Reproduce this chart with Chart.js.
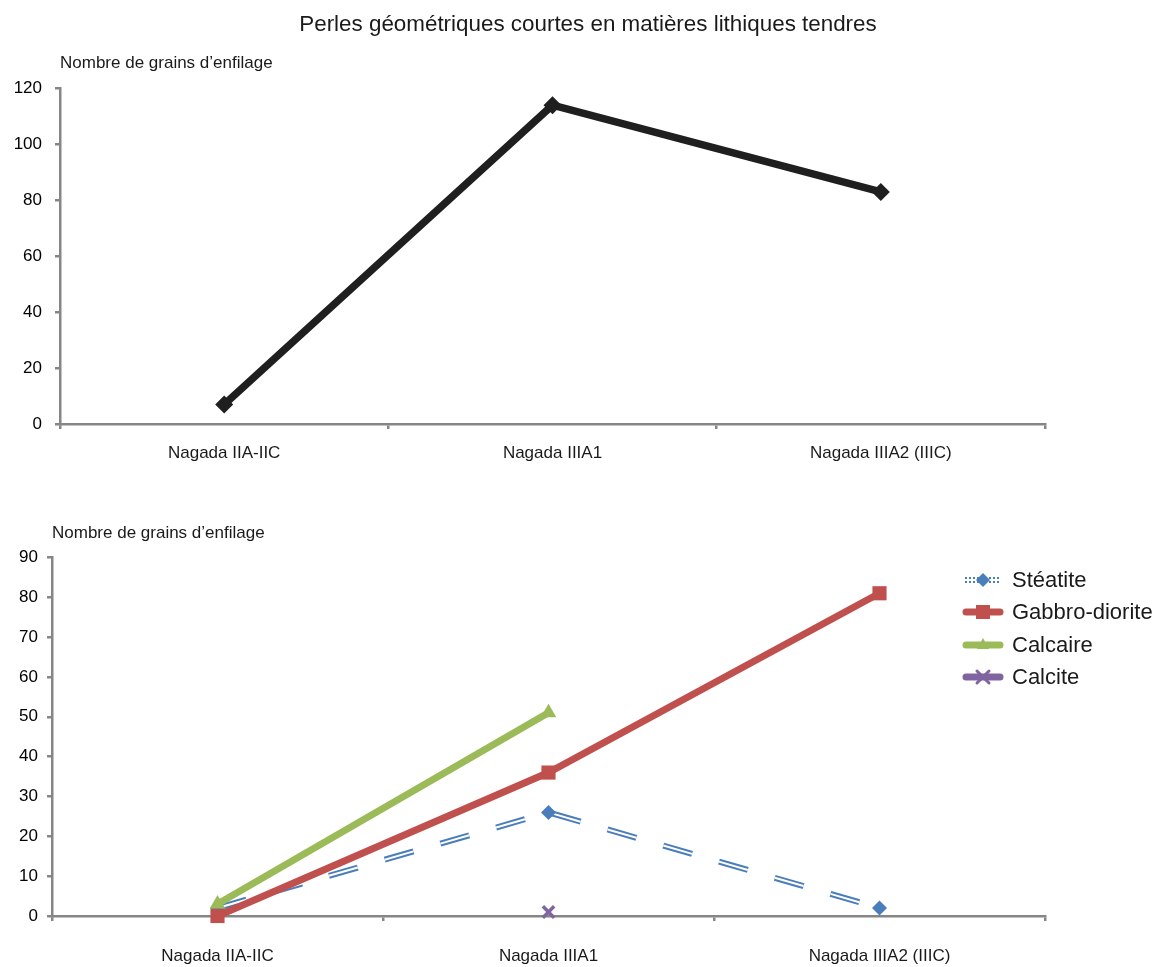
<!DOCTYPE html>
<html>
<head>
<meta charset="utf-8">
<script src="https://cdn.jsdelivr.net/npm/chart.js@4.4.1/dist/chart.umd.min.js"></script>
<style>
    body { margin: 0; background: #fff; width: 1157px; height: 967px; position: relative; overflow: hidden; font-family: "Liberation Sans", Arial, sans-serif; }
    #mainTitle { position: absolute; left: 0; top: 11px; width: 1176px; text-align: center; font-size: 22.4px; line-height: 26px; color: #1a1a1a; white-space: nowrap; }
    #topChart { position: absolute; left: 0; top: 0; }
    #bottomChart { position: absolute; left: 0; top: 470px; }
    #legend { position: absolute; left: 962px; top: 564px; }
    .item { display: flex; align-items: center; height: 32.3px; font-size: 22px; color: #1a1a1a; white-space: nowrap; }
    .item canvas { margin-right: 8px; }
</style>
</head>
<body>
<canvas id="topChart" width="1157" height="470"></canvas>
<canvas id="bottomChart" width="1157" height="497"></canvas>
<div id="mainTitle"></div>
<div id="legend"></div>
<script>
// data
const periods = ['Nagada IIA-IIC', 'Nagada IIIA1', 'Nagada IIIA2 (IIIC)'];
const totalGrains = [7, 114, 83];
const steatite = [2, 26, 2];
const gabbroDiorite = [0, 36, 81];
const calcaire = [3, 51, null];
const calcite = [null, 1, null];
const seriesNames = ['Stéatite', 'Gabbro-diorite', 'Calcaire', 'Calcite'];

const mainTitle = 'Perles géométriques courtes en matières lithiques tendres';
const yTitle = 'Nombre de grains d\u2019enfilage';

const AXIS = '#868686';
const BLUE = '#4a7ebb';
const RED = '#c0504d';
const GREEN = '#9bbb59';
const PURPLE = '#8064a2';

Chart.defaults.font.family = "'Liberation Sans', Arial, sans-serif";
Chart.defaults.color = '#1a1a1a';
Chart.defaults.animation = false;

document.getElementById('mainTitle').textContent = mainTitle;

function makeScales(yMax, step, yWidth, yPad, xPad, xHeight) {
    return {
        x: {
            type: 'category',
            offset: true,
            grid: { offset: true, drawOnChartArea: false, drawTicks: true, tickLength: 5, color: AXIS, lineWidth: 2.5 },
            border: { color: AXIS, width: 2.5 },
            ticks: { font: { size: 17 }, padding: xPad, color: '#1a1a1a', maxRotation: 0 },
            afterFit: (scale) => { scale.height = xHeight; }
        },
        y: {
            min: 0,
            max: yMax,
            ticks: { stepSize: step, font: { size: 17 }, padding: yPad, color: '#000' },
            grid: { drawOnChartArea: false, drawTicks: true, tickLength: 5, color: AXIS, lineWidth: 2.5 },
            border: { color: AXIS, width: 2.5 },
            afterFit: (scale) => { scale.width = yWidth; }
        }
    };
}

function yTitleOptions(padTop, padBottom) {
    return {
        display: true,
        text: yTitle,
        align: 'start',
        fullSize: false,
        font: { size: 17, weight: 'normal' },
        color: '#1a1a1a',
        padding: { top: padTop, bottom: padBottom }
    };
}

// top chart
new Chart(document.getElementById('topChart'), {
    type: 'line',
    data: {
        labels: periods,
        datasets: [{
            label: 'Total',
            data: totalGrains,
            borderColor: '#1f1f1f',
            backgroundColor: '#1f1f1f',
            borderWidth: 7.5,
            tension: 0,
            pointStyle: 'rectRot',
            pointRadius: 9,
            pointBorderWidth: 0,
            pointBackgroundColor: '#1f1f1f',
            clip: false
        }]
    },
    options: {
        responsive: false,
        layout: { padding: { right: 112, bottom: 0 } },
        plugins: {
            legend: { display: false },
            tooltip: { enabled: false },
            title: yTitleOptions(53, 15)
        },
        scales: makeScales(120, 20, 60, 13, 14, 46)
    }
});

// bottom chart
const dash = [30, 28];
new Chart(document.getElementById('bottomChart'), {
    type: 'line',
    data: {
        labels: periods,
        datasets: [
            {
                label: seriesNames[0],
                data: steatite,
                borderColor: BLUE,
                borderWidth: 6,
                borderDash: dash,
                pointRadius: 0,
                order: 5,
                clip: false
            },
            {
                label: seriesNames[0] + ' (inner)',
                data: steatite,
                borderColor: '#ffffff',
                borderWidth: 2,
                borderDash: dash,
                pointRadius: 0,
                order: 4,
                clip: false
            },
            {
                label: seriesNames[0] + ' (points)',
                data: steatite,
                showLine: false,
                pointStyle: 'rectRot',
                pointRadius: 7.5,
                pointBorderWidth: 0,
                pointBackgroundColor: BLUE,
                order: 3,
                clip: false
            },
            {
                label: seriesNames[1],
                data: gabbroDiorite,
                borderColor: RED,
                borderWidth: 7,
                pointStyle: 'rect',
                pointRadius: 10,
                pointBorderWidth: 0,
                pointBackgroundColor: RED,
                order: 2,
                clip: false
            },
            {
                label: seriesNames[2],
                data: calcaire,
                borderColor: GREEN,
                borderWidth: 7,
                pointStyle: 'triangle',
                pointRadius: 9,
                pointBorderWidth: 0,
                pointBackgroundColor: GREEN,
                order: 1,
                clip: false
            },
            {
                label: seriesNames[3],
                data: calcite,
                borderColor: PURPLE,
                borderWidth: 6,
                pointStyle: 'crossRot',
                pointRadius: 8,
                pointBorderWidth: 3.5,
                pointBorderColor: PURPLE,
                order: 0,
                clip: false
            }
        ]
    },
    options: {
        responsive: false,
        layout: { padding: { right: 112, bottom: 0 } },
        plugins: {
            legend: { display: false },
            tooltip: { enabled: false },
            title: yTitleOptions(53, 14)
        },
        scales: makeScales(90, 10, 52, 9, 25, 51)
    }
});

// legend with small line + marker icons
const legendStyles = [
    { color: BLUE, marker: 'diamond', dotted: true },
    { color: RED, marker: 'square' },
    { color: GREEN, marker: 'triangle' },
    { color: PURPLE, marker: 'cross' }
];

function drawIcon(cv, st) {
    const c = cv.getContext('2d');
    const w = cv.width, h = cv.height, my = h / 2;
    c.lineCap = 'round';
    if (st.dotted) {
        c.strokeStyle = st.color;
        c.lineWidth = 6;
        c.lineCap = 'butt';
        c.setLineDash([2, 2]);
        c.beginPath(); c.moveTo(3, my); c.lineTo(w - 3, my); c.stroke();
        c.strokeStyle = '#fff';
        c.lineWidth = 2;
        c.setLineDash([]);
        c.beginPath(); c.moveTo(0, my); c.lineTo(w, my); c.stroke();
    } else {
        c.strokeStyle = st.color;
        c.lineWidth = 7;
        c.beginPath(); c.moveTo(4, my); c.lineTo(w - 4, my); c.stroke();
    }
    const cx = w / 2;
    c.fillStyle = st.color;
    c.strokeStyle = st.color;
    c.beginPath();
    if (st.marker === 'diamond') {
        c.moveTo(cx, my - 7); c.lineTo(cx + 7, my); c.lineTo(cx, my + 7); c.lineTo(cx - 7, my); c.fill();
    } else if (st.marker === 'square') {
        c.fillRect(cx - 7, my - 7, 14, 14);
    } else if (st.marker === 'triangle') {
        c.moveTo(cx, my - 7); c.lineTo(cx + 6, my + 4); c.lineTo(cx - 6, my + 4); c.fill();
    } else {
        c.lineWidth = 3;
        c.moveTo(cx - 6, my - 6); c.lineTo(cx + 6, my + 6);
        c.moveTo(cx + 6, my - 6); c.lineTo(cx - 6, my + 6);
        c.stroke();
    }
}

const legendEl = document.getElementById('legend');
seriesNames.forEach((name, i) => {
    const row = document.createElement('div');
    row.className = 'item';
    const cv = document.createElement('canvas');
    cv.width = 42; cv.height = 20;
    drawIcon(cv, legendStyles[i]);
    const span = document.createElement('span');
    span.textContent = name;
    row.appendChild(cv);
    row.appendChild(span);
    legendEl.appendChild(row);
});
</script>
</body>
</html>
